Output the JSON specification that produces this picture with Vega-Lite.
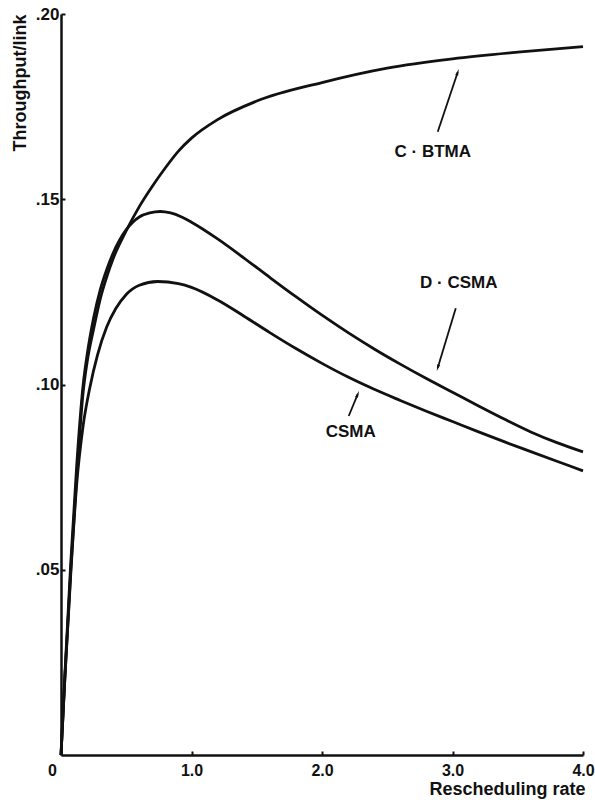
{
  "$schema": "https://vega.github.io/schema/vega-lite/v6.json",
  "width": 522,
  "height": 741,
  "autosize": {"type": "none"},
  "padding": {"left": 61, "top": 14, "right": 12, "bottom": 53},
  "background": "white",
  "config": {"view": {"stroke": null}, "font": "Liberation Sans"},
  "datasets": {
    "curves": [
      {"series": "C-BTMA", "x": 0, "y": 0},
      {"series": "C-BTMA", "x": 0.03, "y": 0.021},
      {"series": "C-BTMA", "x": 0.075, "y": 0.05},
      {"series": "C-BTMA", "x": 0.12, "y": 0.075},
      {"series": "C-BTMA", "x": 0.17, "y": 0.098},
      {"series": "C-BTMA", "x": 0.2, "y": 0.106},
      {"series": "C-BTMA", "x": 0.25, "y": 0.115},
      {"series": "C-BTMA", "x": 0.3, "y": 0.123},
      {"series": "C-BTMA", "x": 0.35, "y": 0.129},
      {"series": "C-BTMA", "x": 0.4, "y": 0.134},
      {"series": "C-BTMA", "x": 0.5, "y": 0.1415},
      {"series": "C-BTMA", "x": 0.6, "y": 0.148},
      {"series": "C-BTMA", "x": 0.7, "y": 0.1535},
      {"series": "C-BTMA", "x": 0.8, "y": 0.1585},
      {"series": "C-BTMA", "x": 0.9, "y": 0.163},
      {"series": "C-BTMA", "x": 1.0, "y": 0.1665},
      {"series": "C-BTMA", "x": 1.2, "y": 0.1715},
      {"series": "C-BTMA", "x": 1.5, "y": 0.1765},
      {"series": "C-BTMA", "x": 2.0, "y": 0.1815},
      {"series": "C-BTMA", "x": 2.5, "y": 0.1854},
      {"series": "C-BTMA", "x": 3.0, "y": 0.1879},
      {"series": "C-BTMA", "x": 3.5, "y": 0.1897},
      {"series": "C-BTMA", "x": 4.0, "y": 0.1912},
      {"series": "D-CSMA", "x": 0, "y": 0},
      {"series": "D-CSMA", "x": 0.03, "y": 0.022},
      {"series": "D-CSMA", "x": 0.075, "y": 0.052},
      {"series": "D-CSMA", "x": 0.12, "y": 0.078},
      {"series": "D-CSMA", "x": 0.17, "y": 0.1},
      {"series": "D-CSMA", "x": 0.2, "y": 0.108},
      {"series": "D-CSMA", "x": 0.25, "y": 0.118},
      {"series": "D-CSMA", "x": 0.3, "y": 0.1255},
      {"series": "D-CSMA", "x": 0.35, "y": 0.131},
      {"series": "D-CSMA", "x": 0.4, "y": 0.1355},
      {"series": "D-CSMA", "x": 0.5, "y": 0.1418},
      {"series": "D-CSMA", "x": 0.55, "y": 0.1438},
      {"series": "D-CSMA", "x": 0.6, "y": 0.1452},
      {"series": "D-CSMA", "x": 0.68, "y": 0.1463},
      {"series": "D-CSMA", "x": 0.76, "y": 0.1467},
      {"series": "D-CSMA", "x": 0.84, "y": 0.1463},
      {"series": "D-CSMA", "x": 0.92, "y": 0.1453},
      {"series": "D-CSMA", "x": 1.0, "y": 0.1438},
      {"series": "D-CSMA", "x": 1.2, "y": 0.1393},
      {"series": "D-CSMA", "x": 1.4, "y": 0.1342},
      {"series": "D-CSMA", "x": 1.6, "y": 0.1289},
      {"series": "D-CSMA", "x": 1.8, "y": 0.1237},
      {"series": "D-CSMA", "x": 2.0, "y": 0.1187},
      {"series": "D-CSMA", "x": 2.2, "y": 0.114},
      {"series": "D-CSMA", "x": 2.4, "y": 0.1096},
      {"series": "D-CSMA", "x": 2.6, "y": 0.1055},
      {"series": "D-CSMA", "x": 2.8, "y": 0.1016},
      {"series": "D-CSMA", "x": 3.0, "y": 0.0979},
      {"series": "D-CSMA", "x": 3.2, "y": 0.0942},
      {"series": "D-CSMA", "x": 3.4, "y": 0.0906},
      {"series": "D-CSMA", "x": 3.6, "y": 0.0872},
      {"series": "D-CSMA", "x": 3.8, "y": 0.0843},
      {"series": "D-CSMA", "x": 4.0, "y": 0.0818},
      {"series": "CSMA", "x": 0, "y": 0},
      {"series": "CSMA", "x": 0.03, "y": 0.021},
      {"series": "CSMA", "x": 0.075, "y": 0.049},
      {"series": "CSMA", "x": 0.12, "y": 0.073},
      {"series": "CSMA", "x": 0.17, "y": 0.089},
      {"series": "CSMA", "x": 0.22, "y": 0.099},
      {"series": "CSMA", "x": 0.28, "y": 0.108},
      {"series": "CSMA", "x": 0.35, "y": 0.1155},
      {"series": "CSMA", "x": 0.42, "y": 0.1205},
      {"series": "CSMA", "x": 0.5, "y": 0.1243},
      {"series": "CSMA", "x": 0.6, "y": 0.1268},
      {"series": "CSMA", "x": 0.74, "y": 0.1278},
      {"series": "CSMA", "x": 0.9, "y": 0.1272},
      {"series": "CSMA", "x": 1.0, "y": 0.1262},
      {"series": "CSMA", "x": 1.2, "y": 0.1228},
      {"series": "CSMA", "x": 1.4, "y": 0.1185},
      {"series": "CSMA", "x": 1.6, "y": 0.114},
      {"series": "CSMA", "x": 1.8, "y": 0.1097},
      {"series": "CSMA", "x": 2.0, "y": 0.1057},
      {"series": "CSMA", "x": 2.2, "y": 0.102},
      {"series": "CSMA", "x": 2.4, "y": 0.0987},
      {"series": "CSMA", "x": 2.6, "y": 0.0957},
      {"series": "CSMA", "x": 2.8, "y": 0.0928},
      {"series": "CSMA", "x": 3.0, "y": 0.09},
      {"series": "CSMA", "x": 3.2, "y": 0.0872},
      {"series": "CSMA", "x": 3.4, "y": 0.0845},
      {"series": "CSMA", "x": 3.6, "y": 0.0819},
      {"series": "CSMA", "x": 3.8, "y": 0.0793},
      {"series": "CSMA", "x": 4.0, "y": 0.0767}
    ],
    "arrows": [
      {"label": "C · BTMA", "x": 2.887, "y": 0.1682, "x2": 3.04, "y2": 0.1843},
      {"label": "D · CSMA", "x": 3.025, "y": 0.1206, "x2": 2.887, "y2": 0.1045},
      {"label": "CSMA", "x": 2.205, "y": 0.0915, "x2": 2.274, "y2": 0.0974}
    ],
    "labels": [
      {"label": "C · BTMA", "x": 2.849, "y": 0.1628},
      {"label": "D · CSMA", "x": 3.048, "y": 0.1274},
      {"label": "CSMA", "x": 2.22, "y": 0.0872}
    ]
  },
  "layer": [
    {
      "data": {"name": "curves"},
      "mark": {"type": "line", "color": "#111", "strokeWidth": 2.8, "interpolate": "monotone"},
      "encoding": {
        "x": {
          "field": "x", "type": "quantitative",
          "scale": {"domain": [0, 4], "nice": false},
          "axis": {
            "values": [0, 1, 2, 3, 4],
            "labelExpr": "datum.value == 0 ? '0' : format(datum.value, '.1f')",
            "labelFontSize": 16, "labelFontWeight": "bold", "labelColor": "#111",
            "labelFlush": false,
            "labelOffset": {"condition": {"test": "datum.value == 0", "value": -9}, "value": 0},
            "labelPadding": 11,
            "domainColor": "#111", "domainWidth": 2.5,
            "tickColor": "#111", "tickSize": -4, "tickWidth": 2,
            "grid": false,
            "title": "Rescheduling rate",
            "titleX": 524, "titleY": 39, "titleAlign": "right", "titleBaseline": "alphabetic",
            "titleFontSize": 18, "titleFontWeight": "bold", "titleColor": "#111"
          }
        },
        "y": {
          "field": "y", "type": "quantitative",
          "scale": {"domain": [0, 0.2], "nice": false},
          "axis": {
            "values": [0.05, 0.1, 0.15, 0.2],
            "labelExpr": "replace(format(datum.value, '.2f'), '0.', '.')",
            "labelFontSize": 17, "labelFontWeight": "bold", "labelColor": "#111",
            "labelPadding": 6,
            "domainColor": "#111", "domainWidth": 2.5,
            "tickColor": "#111", "tickSize": -4, "tickWidth": 2,
            "grid": false,
            "title": "Throughput/link",
            "titleX": -41, "titleY": 0, "titleAngle": -90, "titleAlign": "right", "titleBaseline": "middle",
            "titleFontSize": 18, "titleFontWeight": "bold", "titleColor": "#111"
          }
        },
        "detail": {"field": "series", "type": "nominal"}
      }
    },
    {
      "data": {"name": "arrows"},
      "mark": {"type": "rule", "color": "#111", "strokeWidth": 1.8},
      "encoding": {
        "x": {"field": "x", "type": "quantitative"},
        "y": {"field": "y", "type": "quantitative"},
        "x2": {"field": "x2"},
        "y2": {"field": "y2"}
      }
    },
    {
      "data": {"name": "arrows"},
      "transform": [{"filter": "datum.label == 'C · BTMA'"}],
      "mark": {"type": "point", "shape": "M0,-1L0.45,1L-0.45,1Z", "filled": true, "color": "#111", "size": 45, "angle": 18, "opacity": 1},
      "encoding": {
        "x": {"field": "x2", "type": "quantitative"},
        "y": {"field": "y2", "type": "quantitative"}
      }
    },
    {
      "data": {"name": "arrows"},
      "transform": [{"filter": "datum.label == 'D · CSMA'"}],
      "mark": {"type": "point", "shape": "M0,-1L0.45,1L-0.45,1Z", "filled": true, "color": "#111", "size": 45, "angle": 197, "opacity": 1},
      "encoding": {
        "x": {"field": "x2", "type": "quantitative"},
        "y": {"field": "y2", "type": "quantitative"}
      }
    },
    {
      "data": {"name": "arrows"},
      "transform": [{"filter": "datum.label == 'CSMA'"}],
      "mark": {"type": "point", "shape": "M0,-1L0.45,1L-0.45,1Z", "filled": true, "color": "#111", "size": 45, "angle": 22, "opacity": 1},
      "encoding": {
        "x": {"field": "x2", "type": "quantitative"},
        "y": {"field": "y2", "type": "quantitative"}
      }
    },
    {
      "data": {"name": "labels"},
      "mark": {"type": "text", "fontSize": 17, "fontWeight": "bold", "color": "#111", "align": "center", "baseline": "middle"},
      "encoding": {
        "x": {"field": "x", "type": "quantitative"},
        "y": {"field": "y", "type": "quantitative"},
        "text": {"field": "label"}
      }
    }
  ]
}
